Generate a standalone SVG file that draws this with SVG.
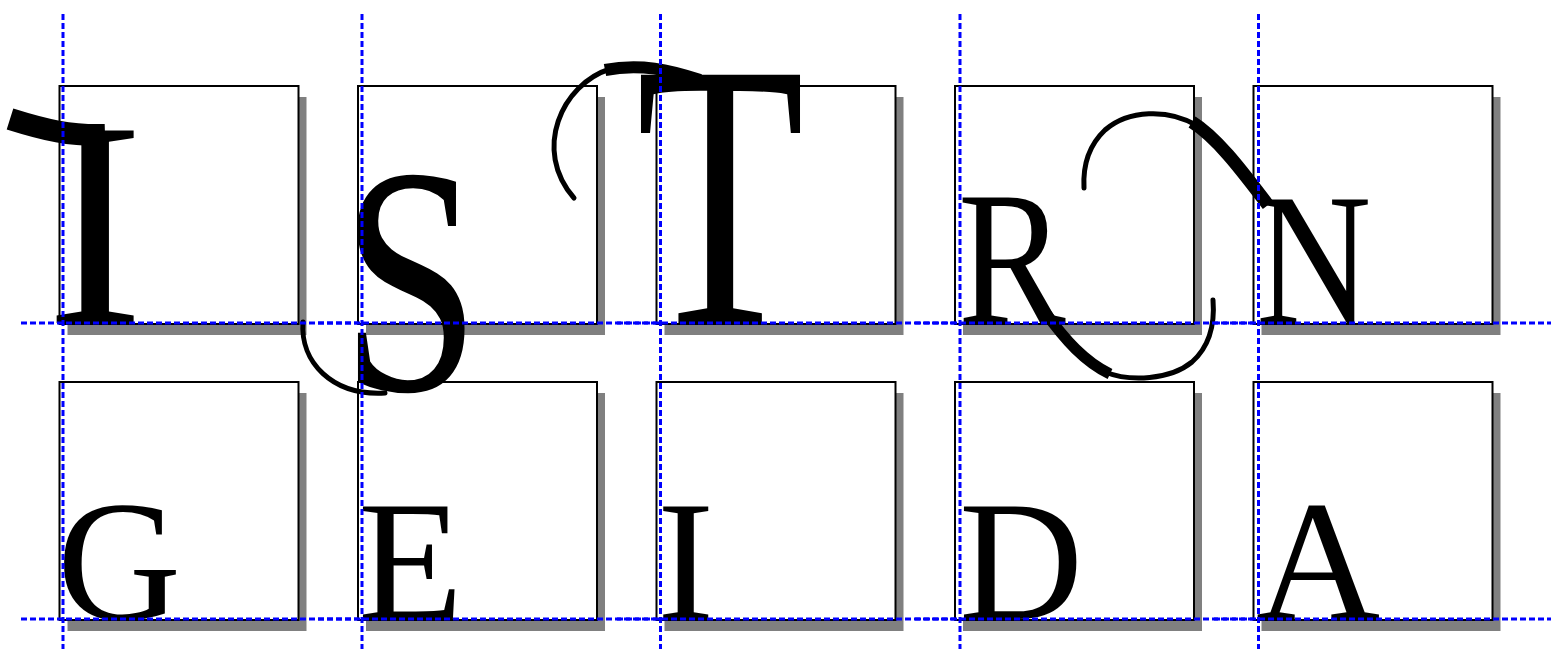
<svg xmlns="http://www.w3.org/2000/svg" width="1551" height="649" viewBox="0 0 1551 649">
<style>
.shadow{fill:#808080}
.box{fill:#fff;stroke:#000;stroke-width:2}
.glyph{font-family:"Liberation Serif","Times New Roman",serif;fill:#000}
.swash{fill:none;stroke:#000;stroke-linecap:round;stroke-width:5}
.thick{fill:none;stroke:#000;stroke-linecap:butt}
.guide{stroke:#0000ff;stroke-width:3;stroke-dasharray:6 3;fill:none}
</style>
<g id="shadows">
<rect class="shadow" x="67.5" y="97" width="239" height="238"/>
<rect class="shadow" x="366" y="97" width="239" height="238"/>
<rect class="shadow" x="664.5" y="97" width="239" height="238"/>
<rect class="shadow" x="963" y="97" width="239" height="238"/>
<rect class="shadow" x="1261.5" y="97" width="239" height="238"/>
<rect class="shadow" x="67.5" y="393" width="239" height="238"/>
<rect class="shadow" x="366" y="393" width="239" height="238"/>
<rect class="shadow" x="664.5" y="393" width="239" height="238"/>
<rect class="shadow" x="963" y="393" width="239" height="238"/>
<rect class="shadow" x="1261.5" y="393" width="239" height="238"/>
</g>
<g id="boxes">
<rect class="box" x="59.5" y="86" width="239" height="238"/>
<rect class="box" x="358" y="86" width="239" height="238"/>
<rect class="box" x="656.5" y="86" width="239" height="238"/>
<rect class="box" x="955" y="86" width="239" height="238"/>
<rect class="box" x="1253.5" y="86" width="239" height="238"/>
<rect class="box" x="59.5" y="382" width="239" height="238"/>
<rect class="box" x="358" y="382" width="239" height="238"/>
<rect class="box" x="656.5" y="382" width="239" height="238"/>
<rect class="box" x="955" y="382" width="239" height="238"/>
<rect class="box" x="1253.5" y="382" width="239" height="238"/>
</g>
<g id="glyph-I-swash">
<path class="thick" d="M 10,119 C 45,130 70,136 105,135" stroke-width="22"/>
<text class="glyph" x="95" y="323" font-size="294" text-anchor="middle">I</text>
</g>
<g id="glyph-S-swash">
<text class="glyph" transform="translate(341,390) scale(1,1.3)" font-size="250">S</text>
<path class="swash" d="M 303,322 C 300,362 332,396 385,393"/>
</g>
<g id="glyph-T-swash">
<text class="glyph" transform="translate(636,323) scale(0.92,1.264)" font-size="300">T</text>
<path class="thick" d="M 700,80 C 670,70 640,63 605,70" stroke-width="12"/>
<path class="swash" d="M 610,69 C 562,84 532,150 574,198"/>
</g>
<g id="glyph-R-swash">
<text class="glyph" transform="translate(958,323) scale(0.85,1)" font-size="190">R</text>
<path class="thick" d="M 1045,312 C 1065,340 1085,362 1110,374" stroke-width="11"/>
<path class="swash" d="M 1105,372 C 1130,382 1170,380 1192,362 C 1210,346 1215,325 1213,300"/>
</g>
<g id="glyph-N-swash">
<text class="glyph" transform="translate(1256,323) scale(0.85,1)" font-size="188">N</text>
<path class="thick" d="M 1268,205 C 1245,175 1218,138 1192,122" stroke-width="13"/>
<path class="swash" d="M 1198,126 C 1168,108 1128,110 1105,130 C 1086,148 1083,170 1084,188"/>
</g>
<g id="glyph-G"><text class="glyph" x="57" y="619" font-size="172">G</text></g>
<g id="glyph-E"><text class="glyph" x="358" y="619" font-size="172">E</text></g>
<g id="glyph-I"><text class="glyph" x="657" y="619" font-size="172">I</text></g>
<g id="glyph-D"><text class="glyph" x="959" y="619" font-size="172">D</text></g>
<g id="glyph-A"><text class="glyph" x="1256" y="619" font-size="172">A</text></g>
<g id="guides">
<line class="guide" x1="63" y1="14" x2="63" y2="649"/>
<line class="guide" x1="362" y1="14" x2="362" y2="649"/>
<line class="guide" x1="660.5" y1="14" x2="660.5" y2="649"/>
<line class="guide" x1="960" y1="14" x2="960" y2="649"/>
<line class="guide" x1="1258.5" y1="14" x2="1258.5" y2="649"/>
<line class="guide" x1="21" y1="323" x2="358" y2="323"/>
<line class="guide" x1="318" y1="323" x2="656.5" y2="323"/>
<line class="guide" x1="617" y1="323" x2="955" y2="323"/>
<line class="guide" x1="915" y1="323" x2="1253.5" y2="323"/>
<line class="guide" x1="1214" y1="323" x2="1551" y2="323"/>
<line class="guide" x1="21" y1="619" x2="358" y2="619"/>
<line class="guide" x1="318" y1="619" x2="656.5" y2="619"/>
<line class="guide" x1="617" y1="619" x2="955" y2="619"/>
<line class="guide" x1="915" y1="619" x2="1253.5" y2="619"/>
<line class="guide" x1="1214" y1="619" x2="1551" y2="619"/>
</g>
</svg>
